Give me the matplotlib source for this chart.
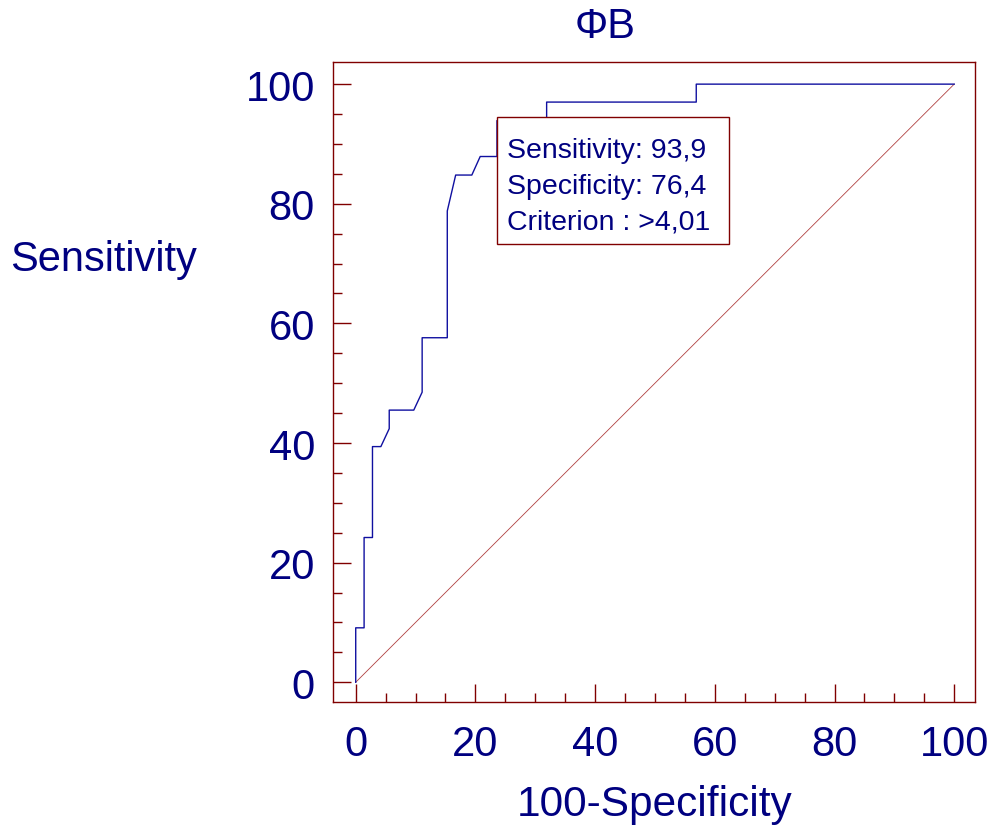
import numpy as np
import matplotlib.pyplot as plt
from matplotlib.ticker import MultipleLocator
from matplotlib.patches import Rectangle

plt.rcParams['font.family'] = ['Liberation Sans', 'DejaVu Sans']

navy = '#000080'
maroon = '#800000'

# ROC curve points (100-Specificity, Sensitivity), in percent
fpr = [0, 0, 1.4, 1.4, 2.8, 2.8, 4.2, 5.6, 5.6, 9.7, 11.1, 11.1, 15.3, 15.3,
       16.7, 19.4, 20.8, 23.6, 23.6, 31.9, 31.9, 56.9, 56.9, 100]
tpr = [0, 9.1, 9.1, 24.2, 24.2, 39.4, 39.4, 42.4, 45.5, 45.5, 48.5, 57.6, 57.6, 78.8,
       84.8, 84.8, 87.9, 87.9, 93.9, 93.9, 97.0, 97.0, 100, 100]

diag = [0, 100]

box_lines = ['Sensitivity: 93,9', 'Specificity: 76,4', 'Criterion : >4,01']

fig = plt.figure(figsize=(9.91, 8.29), dpi=100)
ax = fig.add_axes([0.336, 0.152, 0.648, 0.772])

ax.plot(diag, diag, color='#B04040', lw=0.6)
ax.plot(fpr, tpr, color='#1010A0', lw=1.0)

ax.set_xlim(-3.8, 103.5)
ax.set_ylim(-3.3, 103.7)

for s in ax.spines.values():
    s.set_color(maroon)
    s.set_linewidth(1.0)

ax.xaxis.set_minor_locator(MultipleLocator(5))
ax.yaxis.set_minor_locator(MultipleLocator(5))
ax.set_xticks([0, 20, 40, 60, 80, 100])
ax.set_yticks([0, 20, 40, 60, 80, 100])

ax.tick_params(which='both', direction='in', color=maroon, top=False, right=False,
               labelcolor=navy, labelsize=30)
ax.tick_params(which='major', length=13, width=1.0)
ax.tick_params(which='minor', length=6.5, width=1.0)
ax.tick_params(axis='x', which='major', pad=16)
ax.tick_params(axis='y', which='major', pad=13)

# criterion box
ax.add_patch(Rectangle((0.255, 0.716), 0.361, 0.1975, transform=ax.transAxes,
                       facecolor='white', edgecolor=maroon, lw=1.0, zorder=5))
for i, line in enumerate(box_lines):
    ax.text(0.2713, 0.862 - i * 0.0555, line, transform=ax.transAxes,
            fontsize=20.5, color=navy, va='center', ha='left', zorder=6)

fig.text(605 / 991, 1 - 27 / 829, 'ΦB', fontsize=30, color=navy, ha='center', va='center')
fig.text(10 / 991, 1 - 260 / 829, 'Sensitivity', fontsize=30, color=navy, ha='left', va='center')
fig.text(655 / 991, 1 - 805 / 829, '100-Specificity', fontsize=30.5, color=navy,
         ha='center', va='center')

fig.savefig('out.png', dpi=100)
